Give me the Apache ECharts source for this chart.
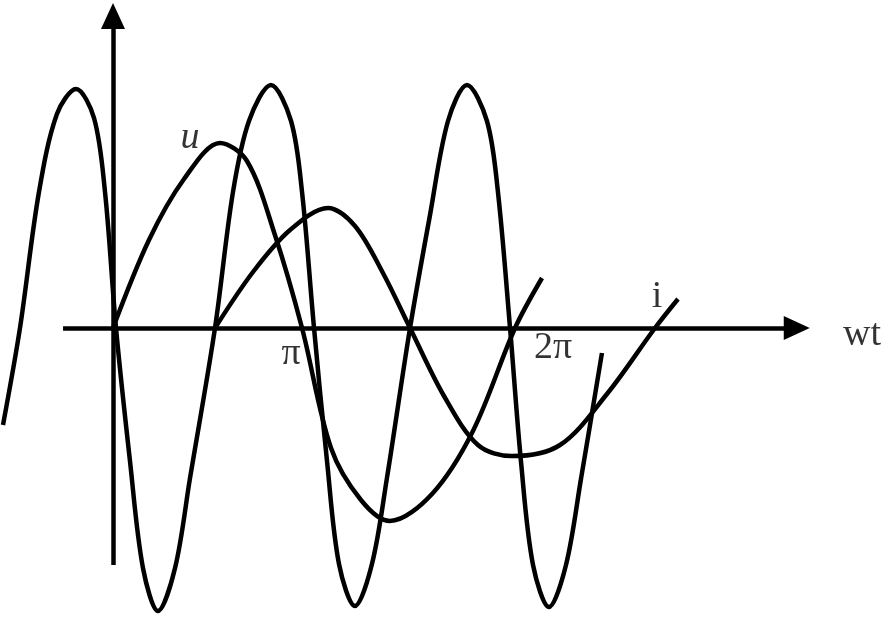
<!DOCTYPE html>
<html>
<head>
<meta charset="utf-8">
<title>u i wt</title>
<script src="https://cdn.jsdelivr.net/npm/echarts@6/dist/echarts.min.js"></script>
<style>
  html, body { margin: 0; padding: 0; background: #fff; }
  #main { width: 885px; height: 618px; }
</style>
</head>
<body>
<div id="main"></div>
<script>
// x in degrees (pi = 180), y in arbitrary units
var uPoints = [
    [0, 0], [32.4, 0.88], [64.0, 1.49], [96.4, 1.85], [120.7, 1.67], [145.9, 0.93],
    [170.3, 0], [196.4, -1.20], [223.4, -1.72], [249.5, -1.93], [287.4, -1.66],
    [324.3, -1.03], [362.2, 0], [386.5, 0.50]
];
var iPoints = [
    [91.9, 0], [126.1, 0.56], [159.5, 0.98], [193.7, 1.20], [218.0, 1.02], [243.2, 0.55],
    [267.6, 0], [298.2, -0.68], [328.8, -1.17], [359.5, -1.28], [402.7, -1.17],
    [445.0, -0.66], [488.3, 0], [509.0, 0.29]
];
// the fast wave
var pPoints = [
    [-99.1, -0.97], [-83.8, 0], [-66.7, 1.36], [-50.5, 2.14], [-33.3, 2.39], [-17.1, 2.10],
    [-7.2, 1.36], [2.7, 0], [15.3, -1.33], [27.0, -2.40], [40.5, -2.83], [55.9, -2.40],
    [69.4, -1.50], [91.9, 0], [108.1, 1.36], [122.5, 2.07], [142.3, 2.43], [160.4, 2.07],
    [170.3, 1.36], [181.1, 0], [192.8, -1.33], [203.6, -2.36], [218.0, -2.78], [233.3, -2.36],
    [246.8, -1.50], [267.6, 0], [285.6, 1.13], [301.8, 2.07], [318.9, 2.43], [336.9, 2.07],
    [346.8, 1.36], [357.7, 0], [367.6, -1.34], [378.4, -2.37], [392.8, -2.79], [408.1, -2.37],
    [421.6, -1.51], [440.5, -0.25]
];
// axis ends
var xAxisEnds = [-45, 616];
var yAxisEnds = [-2.37, 3.12];
// annotations
var labelTexts = ['u', 'π', '2π', 'i', 'wt'];
var labelPos = [[69.4, 1.90], [160.4, -0.26], [396.4, -0.20], [490.1, 0.31], [674.8, -0.07]];

var myChart = echarts.init(document.getElementById('main'));

var curveStyle = { color: '#000', width: 4.5 };

var labelData = [];
for (var k = 0; k < labelTexts.length; k++) {
    labelData.push({
        name: labelTexts[k],
        value: labelPos[k],
        label: labelTexts[k] == 'u' ? { fontStyle: 'italic' } : {}
    });
}

myChart.setOption({
    animation: false,
    backgroundColor: '#fff',
    grid: { left: 0, right: 0, top: 0, bottom: 0 },
    xAxis: { type: 'value', min: -101.8, max: 695.5, show: false },
    yAxis: { type: 'value', min: -2.90, max: 3.28, show: false },
    series: [
        {
            name: 'p', type: 'line', data: pPoints, smooth: 0.33, showSymbol: false,
            lineStyle: curveStyle, clip: false,
            markLine: {
                silent: true,
                symbol: ['none', 'triangle'],
                symbolSize: [24, 26],
                label: { show: false },
                lineStyle: { color: '#000', width: 4.5, type: 'solid' },
                itemStyle: { color: '#000' },
                data: [
                    [{ coord: [xAxisEnds[0], 0] }, { coord: [xAxisEnds[1], 0] }],
                    [{ coord: [0, yAxisEnds[0]] }, { coord: [0, yAxisEnds[1]] }]
                ]
            }
        },
        { name: 'u', type: 'line', data: uPoints, smooth: 0.33, showSymbol: false, lineStyle: curveStyle },
        { name: 'i', type: 'line', data: iPoints, smooth: 0.33, showSymbol: false, lineStyle: curveStyle },
        {
            name: 'labels', type: 'scatter', data: labelData, symbolSize: 0,
            label: {
                show: true,
                position: 'inside',
                formatter: function (p) { return p.name; },
                color: '#000',
                textBorderWidth: 0,
                fontFamily: 'Liberation Serif',
                fontSize: 38
            }
        }
    ]
});
</script>
</body>
</html>
